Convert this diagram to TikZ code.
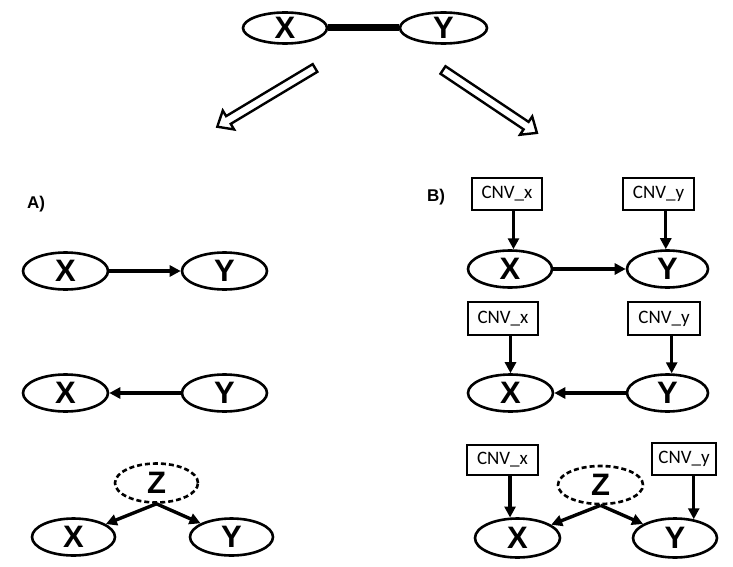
\documentclass[tikz,border=0pt]{standalone}
\usepackage{fontspec}
\setmainfont{Liberation Sans}
\newfontfamily\cnvfont{Carlito}
\usetikzlibrary{shapes.geometric,arrows.meta}
\begin{document}
\begin{tikzpicture}[x=1pt,y=-1pt,
  var/.style={ellipse,draw,line width=2.6pt,inner sep=0pt,minimum width=85pt,minimum height=37pt,
    font=\fontsize{31}{31}\selectfont\bfseries},
  latent/.style={var,dashed,dash pattern=on 5pt off 3pt},
  cnv/.style={rectangle,draw,line width=2.8pt,inner sep=0pt,minimum width=70pt,minimum height=32pt,
    font=\cnvfont\fontsize{19}{19}\selectfont},
  arr/.style={line width=3.4pt,-{Triangle[length=11pt,width=11pt]}},
  hollowline/.style={draw,line width=2.4pt,line join=miter},
  lab/.style={font=\fontsize{17}{17}\selectfont\bfseries}
]
\useasboundingbox (0,0) rectangle (733,567);

% top
\node[var,minimum width=84pt,minimum height=31pt] (tX) at (285,28) {X};
\node[var,minimum width=87pt,minimum height=31pt] (tY) at (443.5,28) {Y};
\draw[line width=7pt] (tX.east) -- (tY.west);

% hollow arrows (drawn as shapes)
\begin{scope}[shift={(315,68)},rotate=211]
  \draw[hollowline] (0,-4.5) -- (101,-4.5) -- (101,-11) -- (114,0) -- (101,11) -- (101,4.5) -- (0,4.5) -- cycle;
\end{scope}
\begin{scope}[shift={(443,70)},rotate=-33.8]
  \draw[hollowline] (0,-4.5) -- (100,-4.5) -- (100,-11) -- (113,0) -- (100,11) -- (100,4.5) -- (0,4.5) -- cycle;
\end{scope}

% labels
\node[lab] (la) at (36,204) {A)};
\node[lab] (lb) at (436,197) {B)};

% A row 1
\node[var] (x1a) at (65.5,271) {X};
\node[var] (y1a) at (224.5,271) {Y};
\draw[arr] (x1a) -- (y1a);

% A row 2
\node[var] (x2a) at (65.5,393) {X};
\node[var] (y2a) at (224.5,393) {Y};
\draw[arr] (y2a) -- (x2a);

% A row 3
\node[latent,minimum width=83pt,minimum height=39pt] (z3a) at (156.5,483) {Z};
\node[var,minimum width=83pt] (x3a) at (73.5,537) {X};
\node[var,minimum width=83pt] (y3a) at (231.5,537) {Y};
\draw[arr] (z3a.south) -- (x3a);
\draw[arr] (z3a.south) -- (y3a);

% B row 1
\node[cnv] (cx1) at (507,194) {CNV\_x};
\node[cnv,minimum width=71pt] (cy1) at (658.5,194) {CNV\_y};
\node[var,minimum width=84pt] (x1b) at (510,269) {X};
\node[var,minimum width=81pt] (y1b) at (667.5,269) {Y};
\draw[arr] (cx1.south -| x1b.80) -- (x1b.80);
\draw[arr] (cy1.south -| y1b.95) -- (y1b.95);
\draw[arr] (x1b) -- (y1b);

% B row 2
\node[cnv,minimum height=33pt] (cx2) at (503,318.5) {CNV\_x};
\node[cnv,minimum width=72pt,minimum height=33pt] (cy2) at (664,318.5) {CNV\_y};
\node[var] (x2b) at (510.5,393) {X};
\node[var,minimum width=81pt] (y2b) at (667.5,393) {Y};
\draw[arr] (cx2.south -| x2b.north) -- (x2b.north);
\draw[arr] (cy2.south -| y2b.78) -- (y2b.78);
\draw[arr] (y2b) -- (x2b);

% B row 3
\node[cnv,minimum width=71pt,minimum height=30pt] (cx3) at (502.5,460) {CNV\_x};
\node[cnv,minimum width=64pt,minimum height=32pt] (cy3) at (684,459) {CNV\_y};
\node[latent,minimum width=85pt,minimum height=38pt] (z3b) at (600.5,485) {Z};
\node[var,minimum height=39pt] (x3b) at (517.5,538) {X};
\node[var,minimum width=84pt,minimum height=39pt] (y3b) at (675,538) {Y};
\draw[arr] (cx3.south -| x3b.110) -- (x3b.110);
\draw[arr] (cy3.south -| y3b.45) -- (y3b.45);
\draw[arr] (z3b.south) -- (x3b);
\draw[arr] (z3b.south) -- (y3b);
\end{tikzpicture}
\end{document}
